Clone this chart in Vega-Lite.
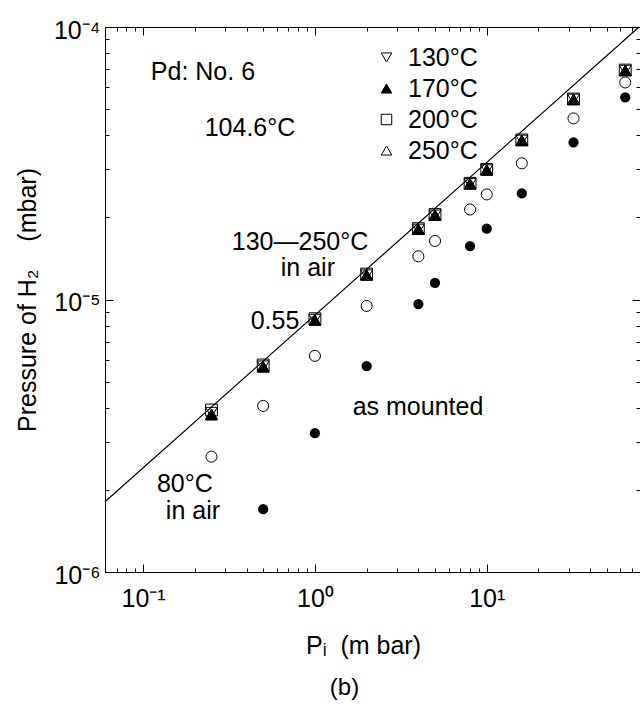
{
  "$schema": "https://vega.github.io/schema/vega-lite/v6.json",
  "width": 535,
  "height": 545,
  "autosize": "none",
  "padding": {"left": 105, "top": 27, "right": 0, "bottom": 138},
  "background": "white",
  "config": {"view": {"stroke": null}, "font": "Liberation Sans"},
  "title": {"text": "(b)", "orient": "bottom", "fontSize": 24, "font": "Liberation Sans", "fontWeight": "normal", "color": "black", "offset": 18, "dx": -28},
  "datasets": {
    "temps": [
      {"P": 0.25, "H": 3.93e-6, "T": "200°C"}, {"P": 0.25, "H": 3.85e-6, "T": "130°C"}, {"P": 0.25, "H": 3.8e-6, "T": "250°C"}, {"P": 0.25, "H": 3.77e-6, "T": "170°C"},
      {"P": 0.5, "H": 5.75e-6, "T": "200°C"}, {"P": 0.5, "H": 5.7e-6, "T": "130°C"}, {"P": 0.5, "H": 5.68e-6, "T": "250°C"}, {"P": 0.5, "H": 5.65e-6, "T": "170°C"},
      {"P": 1, "H": 8.5e-6, "T": "200°C"}, {"P": 1, "H": 8.45e-6, "T": "130°C"}, {"P": 1, "H": 8.42e-6, "T": "250°C"}, {"P": 1, "H": 8.4e-6, "T": "170°C"},
      {"P": 2, "H": 1.24e-5, "T": "200°C"}, {"P": 2, "H": 1.23e-5, "T": "130°C"}, {"P": 2, "H": 1.23e-5, "T": "250°C"}, {"P": 2, "H": 1.23e-5, "T": "170°C"},
      {"P": 4, "H": 1.82e-5, "T": "200°C"}, {"P": 4, "H": 1.81e-5, "T": "130°C"}, {"P": 4, "H": 1.81e-5, "T": "250°C"}, {"P": 4, "H": 1.81e-5, "T": "170°C"},
      {"P": 5, "H": 2.05e-5, "T": "200°C"}, {"P": 5, "H": 2.04e-5, "T": "130°C"}, {"P": 5, "H": 2.04e-5, "T": "250°C"}, {"P": 5, "H": 2.04e-5, "T": "170°C"},
      {"P": 8, "H": 2.67e-5, "T": "200°C"}, {"P": 8, "H": 2.66e-5, "T": "130°C"}, {"P": 8, "H": 2.66e-5, "T": "250°C"}, {"P": 8, "H": 2.66e-5, "T": "170°C"},
      {"P": 10, "H": 3.0e-5, "T": "200°C"}, {"P": 10, "H": 2.99e-5, "T": "130°C"}, {"P": 10, "H": 2.99e-5, "T": "250°C"}, {"P": 10, "H": 2.99e-5, "T": "170°C"},
      {"P": 16, "H": 3.85e-5, "T": "200°C"}, {"P": 16, "H": 3.84e-5, "T": "130°C"}, {"P": 16, "H": 3.84e-5, "T": "250°C"}, {"P": 16, "H": 3.84e-5, "T": "170°C"},
      {"P": 32, "H": 5.44e-5, "T": "200°C"}, {"P": 32, "H": 5.43e-5, "T": "130°C"}, {"P": 32, "H": 5.43e-5, "T": "250°C"}, {"P": 32, "H": 5.43e-5, "T": "170°C"},
      {"P": 64, "H": 6.95e-5, "T": "200°C"}, {"P": 64, "H": 6.93e-5, "T": "130°C"}, {"P": 64, "H": 6.93e-5, "T": "250°C"}, {"P": 64, "H": 6.93e-5, "T": "170°C"}
    ],
    "open": [
      {"P": 0.25, "H": 2.65e-6}, {"P": 0.5, "H": 4.07e-6}, {"P": 1, "H": 6.21e-6}, {"P": 2, "H": 9.47e-6},
      {"P": 4, "H": 1.44e-5}, {"P": 5, "H": 1.64e-5}, {"P": 8, "H": 2.14e-5}, {"P": 10, "H": 2.43e-5},
      {"P": 16, "H": 3.16e-5}, {"P": 32, "H": 4.62e-5}, {"P": 64, "H": 6.26e-5}
    ],
    "filled": [
      {"P": 0.5, "H": 1.7e-6}, {"P": 1, "H": 3.23e-6}, {"P": 2, "H": 5.7e-6}, {"P": 4, "H": 9.62e-6},
      {"P": 5, "H": 1.15e-5}, {"P": 8, "H": 1.57e-5}, {"P": 10, "H": 1.82e-5}, {"P": 16, "H": 2.45e-5},
      {"P": 32, "H": 3.77e-5}, {"P": 64, "H": 5.52e-5}
    ],
    "fit": [
      {"P": 0.06, "H": 1.81e-6}, {"P": 77, "H": 1e-4}
    ],
    "notes": [
      {"P": 0.223, "H": 6.84e-5, "label": "Pd: No. 6"},
      {"P": 0.419, "H": 4.25e-5, "label": "104.6°C"},
      {"P": 0.819, "H": 1.625e-5, "label": "130—250°C"},
      {"P": 0.91, "H": 1.3e-5, "label": "in air"},
      {"P": 0.586, "H": 8.34e-6, "label": "0.55"},
      {"P": 3.98, "H": 4.04e-6, "label": "as mounted"},
      {"P": 0.175, "H": 2.1e-6, "label": "80°C"},
      {"P": 0.195, "H": 1.67e-6, "label": "in air"}
    ]
  },
  "resolve": {"axis": {"x": "independent", "y": "independent"}},
  "layer": [
    {
      "data": {"name": "fit"},
      "mark": {"type": "line", "color": "black", "strokeWidth": 1.2},
      "encoding": {
        "x": {"field": "P", "type": "quantitative", "scale": {"type": "log", "domain": [0.06, 78], "nice": false},
          "axis": {"orient": "bottom", "grid": false,
            "values": [0.06, 0.07, 0.08, 0.09, 0.1, 0.2, 0.3, 0.4, 0.5, 0.6, 0.7, 0.8, 0.9, 1, 2, 3, 4, 5, 6, 7, 8, 9, 10, 20, 30, 40, 50, 60, 70],
            "labelExpr": "datum.value == 0.1 ? '10⁻¹' : datum.value == 1 ? '10⁰' : datum.value == 10 ? '10¹' : ''",
            "tickSize": {"condition": {"test": "datum.value == 0.1 || datum.value == 1 || datum.value == 10", "value": -8}, "value": -4},
            "domainColor": "black", "tickColor": "black", "labelColor": "black", "labelFont": "Liberation Sans", "labelFontSize": 25,
            "labelPadding": 22, "labelFlush": false, "labelOverlap": false,
            "title": "Pᵢ\u00a0\u00a0(m bar)", "titleFont": "Liberation Sans", "titleFontSize": 25, "titleFontWeight": "normal", "titleColor": "black", "titleX": 258, "titlePadding": 18}},
        "y": {"field": "H", "type": "quantitative", "scale": {"type": "log", "domain": [0.000001, 0.0001], "nice": false},
          "axis": {"orient": "left", "grid": false,
            "values": [0.000001, 0.000002, 0.000003, 0.000004, 0.000005, 0.000006, 0.000007, 0.000008, 0.000009, 0.00001, 0.00002, 0.00003, 0.00004, 0.00005, 0.00006, 0.00007, 0.00008, 0.00009, 0.0001],
            "labelExpr": "datum.value == 0.0001 ? '10⁻⁴' : datum.value == 0.00001 ? '10⁻⁵' : datum.value == 0.000001 ? '10⁻⁶' : ''",
            "tickSize": {"condition": {"test": "datum.value == 0.000001 || datum.value == 0.00001 || datum.value == 0.0001", "value": -8}, "value": -4},
            "domainColor": "black", "tickColor": "black", "labelColor": "black", "labelFont": "Liberation Sans", "labelFontSize": 25,
            "labelPadding": 13, "labelFlush": false, "labelOverlap": false, "labelOffset": 3,
            "title": "Pressure of H₂\u00a0\u00a0\u00a0\u00a0(mbar)", "titleFont": "Liberation Sans", "titleFontSize": 25, "titleFontWeight": "normal", "titleColor": "black", "titlePadding": 13}}
      }
    },
    {
      "data": {"name": "open"},
      "mark": {"type": "point", "shape": "circle", "size": 122, "filled": false, "color": "black", "strokeWidth": 1, "opacity": 1},
      "encoding": {
        "x": {"field": "P", "type": "quantitative", "scale": {"type": "log", "domain": [0.06, 78], "nice": false},
          "axis": {"orient": "top", "grid": false, "labels": false, "title": null,
            "values": [0.06, 0.07, 0.08, 0.09, 0.1, 0.2, 0.3, 0.4, 0.5, 0.6, 0.7, 0.8, 0.9, 1, 2, 3, 4, 5, 6, 7, 8, 9, 10, 20, 30, 40, 50, 60, 70],
            "tickSize": {"condition": {"test": "datum.value == 0.1 || datum.value == 1 || datum.value == 10", "value": -8}, "value": -4},
            "domainColor": "black", "tickColor": "black"}},
        "y": {"field": "H", "type": "quantitative", "scale": {"type": "log", "domain": [0.000001, 0.0001], "nice": false},
          "axis": {"orient": "right", "grid": false, "labels": false, "title": null, "domain": false,
            "values": [0.000001, 0.000002, 0.000003, 0.000004, 0.000005, 0.000006, 0.000007, 0.000008, 0.000009, 0.00001, 0.00002, 0.00003, 0.00004, 0.00005, 0.00006, 0.00007, 0.00008, 0.00009, 0.0001],
            "tickSize": {"condition": {"test": "datum.value == 0.000001 || datum.value == 0.00001 || datum.value == 0.0001", "value": -8}, "value": -4},
            "tickColor": "black"}}
      }
    },
    {
      "data": {"name": "filled"},
      "mark": {"type": "point", "shape": "circle", "size": 105, "filled": true, "color": "black", "opacity": 1},
      "encoding": {
        "x": {"field": "P", "type": "quantitative", "scale": {"type": "log", "domain": [0.06, 78], "nice": false}, "axis": null},
        "y": {"field": "H", "type": "quantitative", "scale": {"type": "log", "domain": [0.000001, 0.0001], "nice": false}, "axis": null}
      }
    },
    {
      "data": {"name": "temps"},
      "mark": {"type": "point", "size": 140, "stroke": "black", "strokeWidth": 1, "opacity": 1},
      "encoding": {
        "x": {"field": "P", "type": "quantitative", "scale": {"type": "log", "domain": [0.06, 78], "nice": false}, "axis": null},
        "y": {"field": "H", "type": "quantitative", "scale": {"type": "log", "domain": [0.000001, 0.0001], "nice": false}, "axis": null},
        "shape": {"field": "T", "type": "nominal",
          "scale": {"domain": ["130°C", "170°C", "200°C", "250°C"], "range": ["triangle-down", "triangle-up", "square", "triangle-up"]},
          "legend": {"title": null, "orient": "none", "legendX": 269, "legendY": 18, "labelFontSize": 25, "labelFont": "Liberation Sans", "labelColor": "black",
            "symbolSize": 110, "symbolStrokeWidth": 1, "symbolStrokeColor": "black", "symbolOpacity": 1, "rowPadding": 5, "labelOffset": 9, "padding": 0,
            "encode": {"symbols": {"update": {"stroke": {"value": "black"}, "strokeWidth": {"value": 1}, "opacity": {"value": 1}}}}}},
        "fill": {"field": "T", "type": "nominal",
          "scale": {"domain": ["130°C", "170°C", "200°C", "250°C"], "range": ["transparent", "black", "transparent", "transparent"]},
          "legend": {"title": null, "orient": "none", "legendX": 269, "legendY": 18, "labelFontSize": 25, "labelFont": "Liberation Sans", "labelColor": "black",
            "symbolSize": 110, "symbolStrokeWidth": 1, "symbolStrokeColor": "black", "symbolOpacity": 1, "rowPadding": 5, "labelOffset": 9, "padding": 0,
            "encode": {"symbols": {"update": {"stroke": {"value": "black"}, "strokeWidth": {"value": 1}, "opacity": {"value": 1}}}}}}
      }
    },
    {
      "data": {"name": "notes"},
      "mark": {"type": "text", "fontSize": 25, "font": "Liberation Sans", "align": "center", "baseline": "middle", "color": "black"},
      "encoding": {
        "x": {"field": "P", "type": "quantitative", "scale": {"type": "log", "domain": [0.06, 78], "nice": false}, "axis": null},
        "y": {"field": "H", "type": "quantitative", "scale": {"type": "log", "domain": [0.000001, 0.0001], "nice": false}, "axis": null},
        "text": {"field": "label", "type": "nominal"}
      }
    }
  ]
}
